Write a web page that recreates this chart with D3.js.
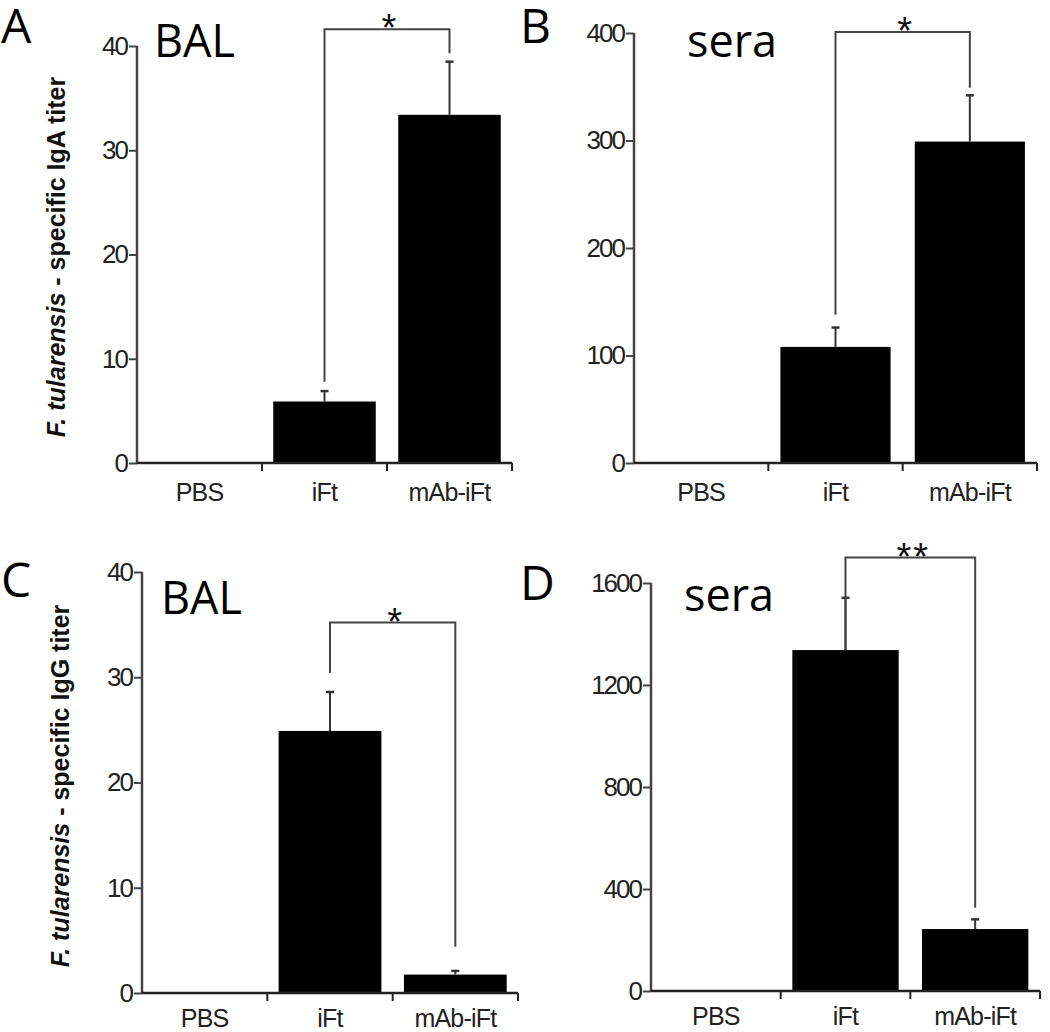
<!DOCTYPE html>
<html>
<head>
<meta charset="utf-8">
<script src="https://cdn.jsdelivr.net/npm/d3@7"></script>
<style>
  html, body { margin: 0; padding: 0; background: #fff; }
  svg { display: block; }
</style>
</head>
<body>
<svg id="chart" width="1050" height="1032"></svg>
<script>
// ---------------- data ----------------
const categories = ["PBS", "iFt", "mAb-iFt"];

const igaBalMeans  = [0, 5.9, 33.4];
const igaBalErrors = [0, 1.0, 5.1];
const igaBalTicks  = [0, 10, 20, 30, 40];

const igaSeraMeans  = [0, 108, 299];
const igaSeraErrors = [0, 18, 43];
const igaSeraTicks  = [0, 100, 200, 300, 400];

const iggBalMeans  = [0, 24.9, 1.75];
const iggBalErrors = [0, 3.7, 0.35];
const iggBalTicks  = [0, 10, 20, 30, 40];

const iggSeraMeans  = [0, 1337, 243];
const iggSeraErrors = [0, 205, 38];
const iggSeraTicks  = [0, 400, 800, 1200, 1600];

// significance brackets: [top value, left-leg end value, right-leg end value]
const igaBalBracket  = [41.6, 7.8, 39.3];
const igaSeraBracket = [401, 138, 349];
const iggBalBracket  = [35.2, 30.4, 4.4];
const iggSeraBracket = [1700, 1337, 326];

const panelLetters = ["A", "B", "C", "D"];
const sampleLabels = ["BAL", "sera", "BAL", "sera"];
const starLabels   = ["*", "*", "*", "**"];
const yTitleIgA = ["F. tularensis", " - specific IgA titer"];
const yTitleIgG = ["F. tularensis", " - specific IgG titer"];

// ---------------- layout ----------------
const svg = d3.select("#chart");
const FONT = "'Liberation Sans', Arial, sans-serif";
const LABEL_FONT = "'Open Sans', 'Liberation Sans', sans-serif";

const panels = [
  { means: igaBalMeans,  errs: igaBalErrors,  ticks: igaBalTicks,  bracket: igaBalBracket,
    x0: 137, x1: 512, yZero: 463, yTop: 46, letter: [1, 43], sample: [154, 57], title: yTitleIgA, titlePos: [56, 257], pad: 20 },
  { means: igaSeraMeans, errs: igaSeraErrors, ticks: igaSeraTicks, bracket: igaSeraBracket,
    x0: 634, x1: 1037, yZero: 463, yTop: 33, letter: [520, 43], sample: [687, 57], pad: 20 },
  { means: iggBalMeans,  errs: iggBalErrors,  ticks: iggBalTicks,  bracket: iggBalBracket,
    x0: 142, x1: 518, yZero: 993, yTop: 572, letter: [1, 597], sample: [161, 614], title: yTitleIgG, titlePos: [60, 786], pad: 16 },
  { means: iggSeraMeans, errs: iggSeraErrors, ticks: iggSeraTicks, bracket: iggSeraBracket,
    x0: 651, x1: 1040, yZero: 991, yTop: 583, letter: [520, 600], sample: [684, 611], pad: 16 }
];

panels.forEach((p, i) => {
  const g = svg.append("g");
  const x = d3.scaleBand().domain(categories).range([p.x0, p.x1]).paddingInner(0.18).paddingOuter(0.09);
  const y = d3.scaleLinear().domain([0, d3.max(p.ticks)]).range([p.yZero, p.yTop]);
  const data = categories.map((c, k) => ({ c, v: p.means[k], e: p.errs[k] }));
  const cx = c => x(c) + x.bandwidth() / 2;

  // bars
  g.selectAll("rect.bar").data(data.filter(d => d.v > 0)).join("rect")
    .attr("x", d => x(d.c)).attr("width", x.bandwidth())
    .attr("y", d => y(d.v)).attr("height", d => y(0) - y(d.v))
    .attr("fill", "#000");

  // error bars (upper only)
  const eb = g.selectAll("g.err").data(data.filter(d => d.v > 0)).join("g");
  eb.append("line")
    .attr("x1", d => cx(d.c)).attr("x2", d => cx(d.c))
    .attr("y1", d => y(d.v)).attr("y2", d => y(d.v + d.e))
    .attr("stroke", "#333").attr("stroke-width", 2);
  eb.append("line")
    .attr("x1", d => cx(d.c) - 4).attr("x2", d => cx(d.c) + 4)
    .attr("y1", d => y(d.v + d.e)).attr("y2", d => y(d.v + d.e))
    .attr("stroke", "#333").attr("stroke-width", 2.5);

  // y axis
  const yAxis = g.append("g").attr("transform", `translate(${p.x0},0)`)
    .call(d3.axisLeft(y).tickValues(p.ticks).tickSize(8).tickPadding(2).tickFormat(d3.format("d")));
  yAxis.select(".domain").attr("d", `M0,${p.yTop}V${p.yZero}`).attr("stroke", "#444").attr("stroke-width", 2.5);
  yAxis.selectAll(".tick line").attr("stroke", "#444").attr("stroke-width", 2);
  yAxis.selectAll("text").attr("font-family", FONT).attr("font-size", 26).attr("fill", "#222")
    .attr("letter-spacing", -2);

  // x axis
  const xAxis = g.append("g").attr("transform", `translate(0,${p.yZero})`)
    .call(d3.axisBottom(x).tickSize(0).tickPadding(p.pad));
  xAxis.select(".domain").attr("d", `M${p.x0},0H${p.x1}`).attr("stroke", "#222").attr("stroke-width", 2.5);
  xAxis.selectAll("text").attr("font-family", FONT).attr("font-size", 25).attr("fill", "#222")
    .attr("letter-spacing", -0.8);
  // boundary ticks between categories
  g.selectAll("line.xt").data(categories).join("line")
    .attr("x1", c => x(c) + x.step() * (1 - x.paddingInner() / 2))
    .attr("x2", c => x(c) + x.step() * (1 - x.paddingInner() / 2))
    .attr("y1", p.yZero).attr("y2", p.yZero + 8)
    .attr("stroke", "#222").attr("stroke-width", 2);

  // significance bracket
  const [bTop, bL, bR] = p.bracket;
  const xl = cx("iFt"), xr = cx("mAb-iFt");
  g.append("path")
    .attr("d", `M${xl},${y(bL)}V${y(bTop)}H${xr}V${y(bR)}`)
    .attr("fill", "none").attr("stroke", "#444").attr("stroke-width", 2);
  g.append("text").attr("x", (xl + xr) / 2 + 3).attr("y", y(bTop) + 12)
    .attr("text-anchor", "middle").attr("font-family", FONT)
    .attr("font-size", 38).attr("fill", "#111").attr("letter-spacing", 2).text(starLabels[i]);

  // sample label and panel letter
  g.append("text").attr("x", p.sample[0]).attr("y", p.sample[1])
    .attr("font-family", LABEL_FONT).attr("font-size", 45).attr("fill", "#000").text(sampleLabels[i]);
  g.append("text").attr("x", p.letter[0]).attr("y", p.letter[1])
    .attr("font-family", LABEL_FONT).attr("font-size", 48).attr("fill", "#000").text(panelLetters[i]);

  // y title
  if (p.title) {
    const t = g.append("text")
      .attr("transform", `translate(${p.titlePos[0]},${p.titlePos[1]}) rotate(-90)`)
      .attr("text-anchor", "middle").attr("dominant-baseline", "central")
      .attr("font-family", FONT).attr("font-weight", "bold").attr("font-size", 25).attr("fill", "#111");
    t.append("tspan").attr("font-style", "italic").text(p.title[0]);
    t.append("tspan").text(p.title[1]);
  }
});
</script>
</body>
</html>
